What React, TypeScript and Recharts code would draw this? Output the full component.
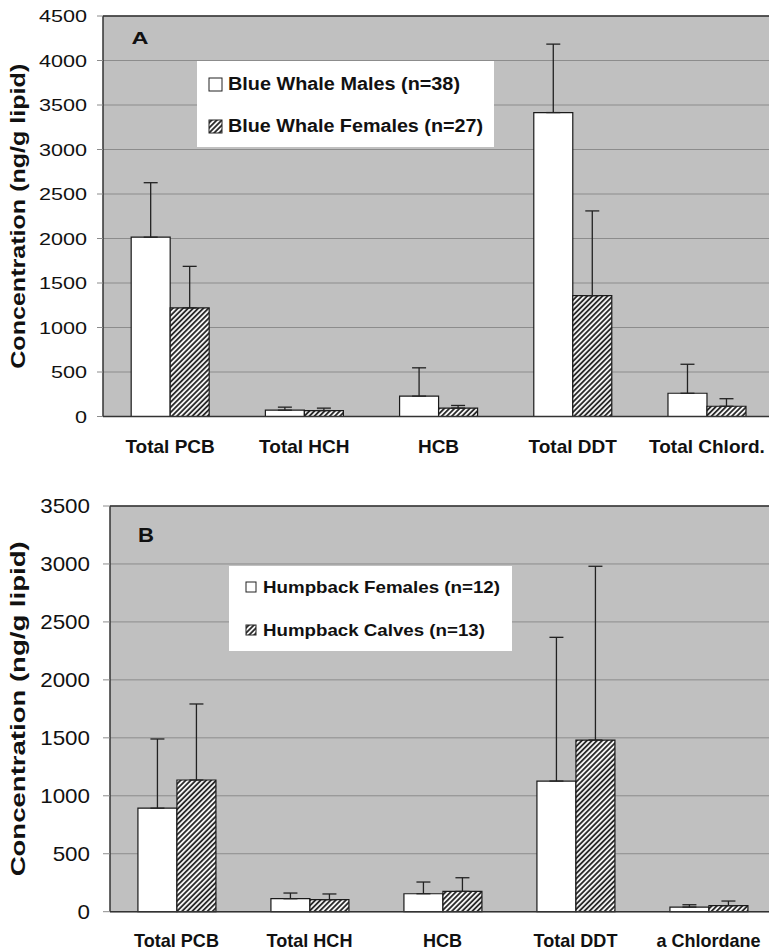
import React from 'react'
import {
  BarChart,
  Bar,
  XAxis,
  YAxis,
  CartesianGrid,
  ErrorBar,
  Legend,
  ReferenceLine,
} from 'recharts'

// Panel A - blue whales
const blueCategories = ['Total PCB', 'Total HCH', 'HCB', 'Total DDT', 'Total Chlord.']
const blueMales = [2015, 71, 229, 3415, 261]
const blueMalesSd = [612, 34, 318, 769, 326]
const blueFemales = [1220, 67, 94, 1358, 115]
const blueFemalesSd = [467, 27, 30, 952, 85]
const blueTicks = [0, 500, 1000, 1500, 2000, 2500, 3000, 3500, 4000, 4500]

// Panel B - humpbacks
const humpCategories = ['Total PCB', 'Total HCH', 'HCB', 'Total DDT', 'a Chlordane']
const humpFemales = [893, 112, 155, 1127, 40]
const humpFemalesSd = [597, 49, 101, 1240, 20]
const humpCalves = [1136, 104, 175, 1481, 52]
const humpCalvesSd = [656, 49, 118, 1499, 40]
const humpTicks = [0, 500, 1000, 1500, 2000, 2500, 3000, 3500]

const boundTicks = [0, 1, 2, 3, 4, 5]

const FONT = '"Liberation Sans", Arial, Helvetica, sans-serif'
const PLOT_BG = '#c0c0c0'
const GRID = '#8c8c8c'
const AXIS = '#333'
const INK = '#111'

const blueRows = blueCategories.map((name, i) => ({
  name,
  a: blueMales[i],
  aErr: [0, blueMalesSd[i]],
  b: blueFemales[i],
  bErr: [0, blueFemalesSd[i]],
}))

const humpRows = humpCategories.map((name, i) => ({
  name,
  a: humpFemales[i],
  aErr: [0, humpFemalesSd[i]],
  b: humpCalves[i],
  bErr: [0, humpCalvesSd[i]],
}))

// y tick with slightly stretched digits, like the scanned figure
const YTick = (props: any) => {
  const { x, y, payload, fs, sx } = props
  return (
    <text
      transform={`translate(${x},${y}) scale(${sx},1)`}
      textAnchor="end"
      dy="0.36em"
      fontSize={fs}
      fontFamily={FONT}
      fill={INK}
    >
      {payload.value}
    </text>
  )
}

const XTick = (props: any) => {
  const { x, y, payload, dy, sx } = props
  return (
    <text
      transform={`translate(${x},${y + dy}) scale(${sx},1)`}
      textAnchor="middle"
      fontSize={19}
      fontWeight="bold"
      fontFamily={FONT}
      fill={INK}
    >
      {payload.value}
    </text>
  )
}

interface LegendCfg {
  w: number
  h: number
  swX: number
  swY: number[]
  sw: number
  txtX: number
  base: number[]
  len: number[]
  fs: number
}

const makeLegend = (cfg: LegendCfg) => (props: any) => {
  const payload = props.payload ?? []
  return (
    <svg width={cfg.w} height={cfg.h} style={{ display: 'block' }}>
      <rect x={0} y={0} width={cfg.w} height={cfg.h} fill="#fff" />
      {payload.map((entry: any, i: number) => (
        <g key={`leg-${i}`}>
          <rect
            x={cfg.swX}
            y={cfg.swY[i]}
            width={cfg.sw}
            height={cfg.sw}
            fill={entry.color}
            stroke="#222"
            strokeWidth={1}
          />
          <text
            x={cfg.txtX}
            y={cfg.base[i]}
            fontSize={cfg.fs}
            fontWeight="bold"
            fontFamily={FONT}
            fill={INK}
            textLength={cfg.len[i]}
            lengthAdjust="spacingAndGlyphs"
          >
            {entry.value}
          </text>
        </g>
      ))}
    </svg>
  )
}

const legendA = makeLegend({
  w: 297,
  h: 86,
  swX: 12,
  swY: [17, 59],
  sw: 13,
  txtX: 31,
  base: [29, 71],
  len: [232, 255],
  fs: 18,
})

const legendB = makeLegend({
  w: 283,
  h: 85,
  swX: 17,
  swY: [16, 59],
  sw: 10,
  txtX: 34,
  base: [26.5, 69.5],
  len: [237, 222],
  fs: 16.5,
})

const Hatch = ({ id }: { id: string }) => (
  <defs>
    <pattern id={id} patternUnits="userSpaceOnUse" width={3.6} height={3.6} patternTransform="rotate(45)">
      <rect width={3.6} height={3.6} fill="#fff" />
      <line x1={1.8} y1={0} x2={1.8} y2={3.6} stroke="#2b2b2b" strokeWidth={1.9} />
    </pattern>
  </defs>
)

interface PanelProps {
  rows: any[]
  ticks: number[]
  top: number
  height: number
  yWidth: number
  marginRight: number
  catHeight: number
  hatchId: string
  names: string[]
  letter: string
  letterX: number
  letterY: number
  letterSize: number
  letterLen: number
  yLabelX: number
  yLabelLen: number
  yTickFs: number
  yTickSx: number
  yTickSize: number
  yTickMargin: number
  xDy: number
  xSx: number
  legend: (p: any) => React.ReactNode
  legendPos: { left: number; top: number; width: number; height: number }
}

const Panel = (p: PanelProps) => {
  const max = p.ticks[p.ticks.length - 1]
  const plotTop = 16
  const plotBottom = p.height - p.catHeight - 1
  return (
    <div style={{ position: 'absolute', left: 0, top: p.top }}>
      <BarChart
        width={790}
        height={p.height}
        data={p.rows}
        margin={{ top: plotTop, right: p.marginRight, bottom: 0, left: 0 }}
        barCategoryGap="21%"
        barGap={0}
      >
        <Hatch id={p.hatchId} />
        <CartesianGrid vertical={false} stroke={GRID} fill={PLOT_BG} />
        <XAxis
          xAxisId="bnd"
          type="number"
          domain={[0, 5]}
          ticks={boundTicks}
          tick={false}
          tickSize={7}
          height={1}
          allowDataOverflow
          axisLine={{ stroke: AXIS, strokeWidth: 1.5 }}
          tickLine={{ stroke: '#a9a9a9' }}
        />
        <XAxis
          xAxisId="cat"
          dataKey="name"
          height={p.catHeight}
          interval={0}
          axisLine={false}
          tickLine={false}
          tickSize={6}
          tickMargin={0}
          tick={<XTick dy={p.xDy} sx={p.xSx} />}
        />
        <YAxis
          domain={[0, max]}
          ticks={p.ticks}
          width={p.yWidth}
          interval={0}
          tickSize={p.yTickSize}
          tickMargin={p.yTickMargin}
          axisLine={{ stroke: AXIS, strokeWidth: 1.5 }}
          tickLine={{ stroke: GRID }}
          tick={<YTick fs={p.yTickFs} sx={p.yTickSx} />}
        />
        <ReferenceLine xAxisId="cat" y={max} stroke={AXIS} strokeWidth={1.5} />
        <Bar
          xAxisId="cat"
          dataKey="a"
          name={p.names[0]}
          fill="#ffffff"
          stroke="#1a1a1a"
          strokeWidth={1.2}
          isAnimationActive={false}
        >
          <ErrorBar dataKey="aErr" width={7} stroke="#222" strokeWidth={1.3} isAnimationActive={false} />
        </Bar>
        <Bar
          xAxisId="cat"
          dataKey="b"
          name={p.names[1]}
          fill={`url(#${p.hatchId})`}
          stroke="#1a1a1a"
          strokeWidth={1.2}
          isAnimationActive={false}
        >
          <ErrorBar dataKey="bErr" width={7} stroke="#222" strokeWidth={1.3} isAnimationActive={false} />
        </Bar>
        <Legend
          layout="horizontal"
          verticalAlign="middle"
          align="center"
          itemSorter="dataKey"
          content={p.legend as any}
          wrapperStyle={{ ...p.legendPos, margin: 0, padding: 0 }}
        />
        <text
          x={p.letterX}
          y={p.letterY}
          fontSize={p.letterSize}
          fontWeight="bold"
          fontFamily={FONT}
          fill={INK}
          textLength={p.letterLen}
          lengthAdjust="spacingAndGlyphs"
        >
          {p.letter}
        </text>
        <text
          transform={`translate(${p.yLabelX},${(plotTop + plotBottom) / 2}) rotate(-90)`}
          textAnchor="middle"
          fontSize={20}
          fontWeight="bold"
          fontFamily={FONT}
          fill={INK}
          textLength={p.yLabelLen}
          lengthAdjust="spacingAndGlyphs"
        >
          Concentration (ng/g lipid)
        </text>
      </BarChart>
    </div>
  )
}

export default function App() {
  return (
    <div
      style={{
        position: 'absolute',
        left: 0,
        top: 0,
        width: 769,
        height: 950,
        overflow: 'hidden',
        background: '#fff',
      }}
    >
      <Panel
        rows={blueRows}
        ticks={blueTicks}
        top={0}
        height={470}
        yWidth={103}
        marginRight={16}
        catHeight={52.5}
        hatchId="hatchA"
        names={['Blue Whale Males (n=38)', 'Blue Whale Females (n=27)']}
        letter="A"
        letterX={131.5}
        letterY={44}
        letterSize={17}
        letterLen={17}
        yLabelX={25}
        yLabelLen={305}
        yTickFs={17}
        yTickSx={1.27}
        yTickSize={6}
        yTickMargin={10}
        xDy={29}
        xSx={1}
        legend={legendA}
        legendPos={{ left: 197, top: 61, width: 297, height: 86 }}
      />
      <Panel
        rows={humpRows}
        ticks={humpTicks}
        top={490}
        height={460}
        yWidth={110}
        marginRight={15}
        catHeight={37.3}
        hatchId="hatchB"
        names={['Humpback Females (n=12)', 'Humpback Calves (n=13)']}
        letter="B"
        letterX={138}
        letterY={52}
        letterSize={21}
        letterLen={16}
        yLabelX={25}
        yLabelLen={335}
        yTickFs={20}
        yTickSx={1.12}
        yTickSize={7}
        yTickMargin={13}
        xDy={28}
        xSx={0.95}
        legend={legendB}
        legendPos={{ left: 229, top: 76, width: 283, height: 85 }}
      />
    </div>
  )
}
